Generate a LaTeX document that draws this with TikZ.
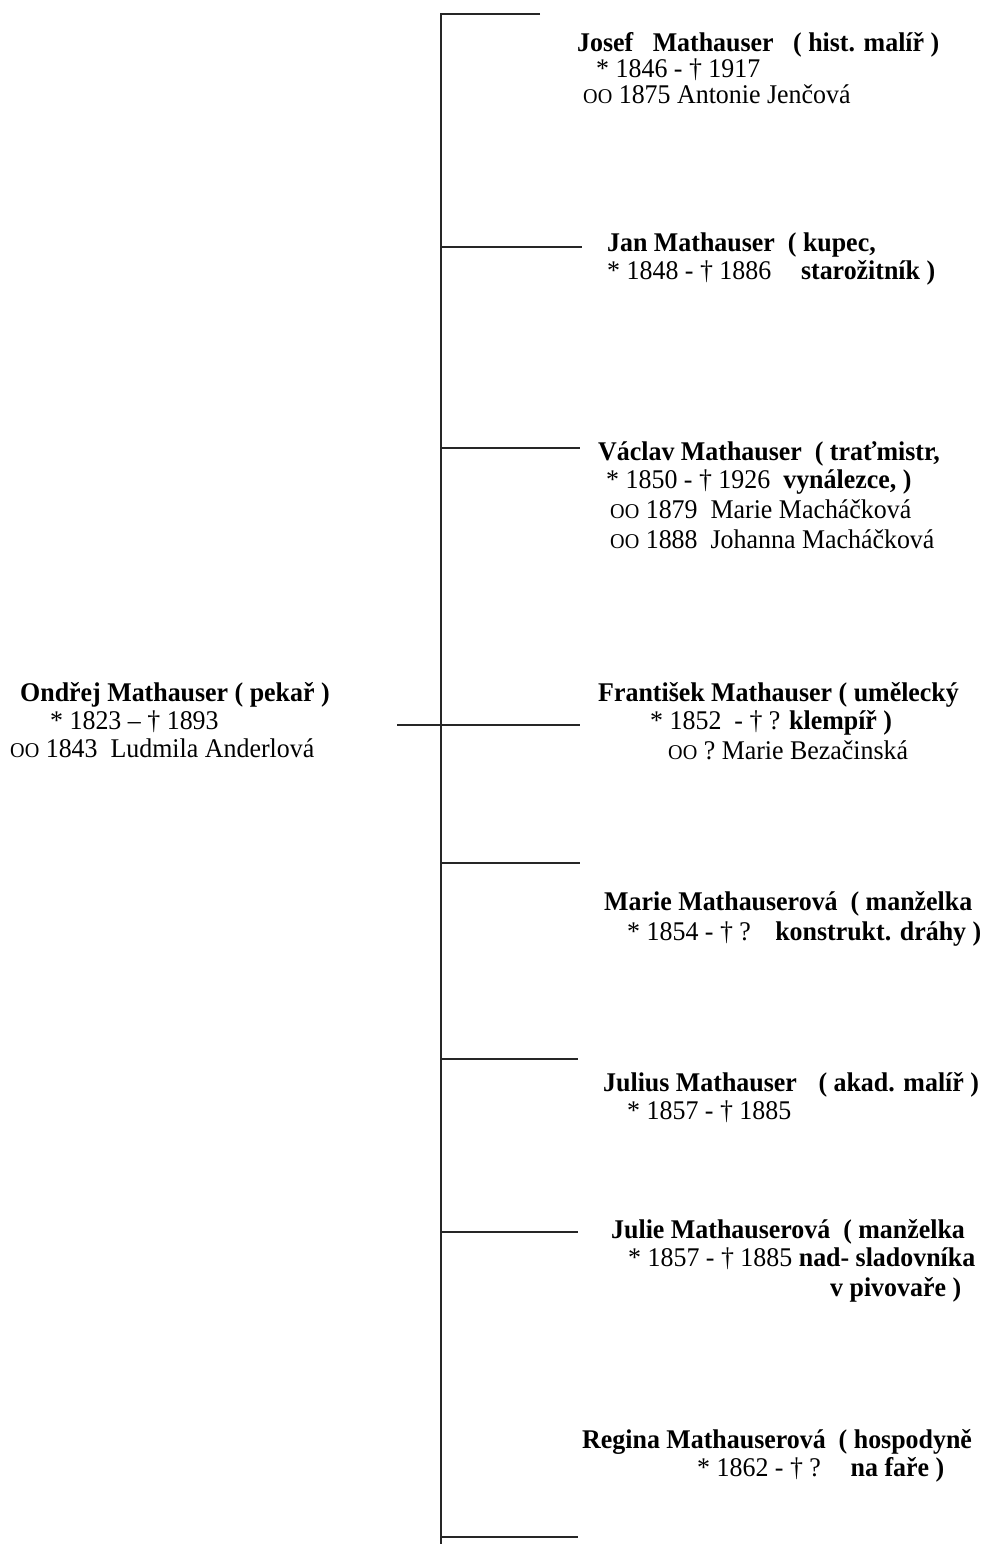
\documentclass[tikz,border=0pt]{standalone}
\usepackage{fontspec}
\setmainfont{Liberation Serif}[FakeStretch=0.96]
\usepackage{tikz}
\newcommand{\marr}{{\fontsize{21}{21}\selectfont OO}}
\newcommand{\firstline}{\rule{0pt}{21pt}}

\begin{document}
\begin{tikzpicture}[x=1pt,y=-1pt,
	person/.style={anchor=north west,align=left,inner sep=0pt,font=\fontsize{27}{28}\selectfont},
	branch/.style={line width=2.2pt,draw=black!85}]
	\useasboundingbox (0,0) rectangle (982,1544);

	% trunk and its branch points
	\coordinate (tTop) at (441,14);
	\coordinate (tJan) at (441,247);
	\coordinate (tVaclav) at (441,448);
	\coordinate (tFrant) at (441,725);
	\coordinate (tMarie) at (441,863);
	\coordinate (tJulius) at (441,1059);
	\coordinate (tJulie) at (441,1232);
	\coordinate (tBot) at (441,1537);
	\coordinate (tEnd) at (441,1544);

	% free ends of the branches
	\coordinate (eTop) at (540,14);
	\coordinate (eJan) at (582,247);
	\coordinate (eVaclav) at (580,448);
	\coordinate (eOndrej) at (397,725);
	\coordinate (eFrant) at (580,725);
	\coordinate (eMarie) at (580,863);
	\coordinate (eJulius) at (578,1059);
	\coordinate (eJulie) at (578,1232);
	\coordinate (eBot) at (578,1537);

	\draw[branch] (eTop) -- (tTop) -- (tEnd);
	\draw[branch] (tJan) -- (eJan);
	\draw[branch] (tVaclav) -- (eVaclav);
	\draw[branch] (eOndrej) -- (eFrant);
	\draw[branch] (tMarie) -- (eMarie);
	\draw[branch] (tJulius) -- (eJulius);
	\draw[branch] (tJulie) -- (eJulie);
	\draw[branch] (tBot) -- (eBot);

	\node[person] (ondrej) at (10,680) {\firstline\hspace*{10pt}\textbf{Ondřej Mathauser ( pekař )}\\
		\hspace*{40pt}* 1823 -- † 1893\\
		\marr{} 1843\ \ Ludmila Anderlová};

	\node[person] (josef) at (577,30) {\firstline\textbf{Josef\ \ \ Mathauser\ \ \ ( hist. malíř )}\\[-2pt]
		\hspace*{19pt}* 1846 - † 1917\\[-2pt]
		\hspace*{6pt}\marr{} 1875 Antonie Jenčová};
	\node[person] (jan) at (607,230) {\firstline\textbf{Jan Mathauser\ \ ( kupec,}\\
		* 1848 - † 1886\hspace{1.1em}\textbf{starožitník )}};
	\node[person] (vaclav) at (598,439) {\firstline\textbf{Václav Mathauser\ \ ( traťmistr,}\\
		\hspace*{8pt}* 1850 - † 1926\ \ \textbf{vynálezce, )}\\[2pt]
		\hspace*{12pt}\marr{} 1879\ \ Marie Macháčková\\[2pt]
		\hspace*{12pt}\marr{} 1888\ \ Johanna Macháčková};
	\node[person] (frant) at (598,680) {\firstline\textbf{František Mathauser ( umělecký}\\
		\hspace*{52pt}* 1852\ \ - † ? \textbf{klempíř )}\\[2pt]
		\hspace*{70pt}\marr{} ? Marie Bezačinská};
	\node[person] (marie) at (604,889) {\firstline\textbf{Marie Mathauserová\ \ ( manželka}\\[2pt]
		\hspace*{23pt}* 1854 - † ?\hspace{0.9em}\textbf{konstrukt. dráhy )}};
	\node[person] (julius) at (603,1070) {\firstline\textbf{Julius Mathauser\hspace{0.8em}( akad. malíř )}\\
		\hspace*{24pt}* 1857 - † 1885};
	\node[person] (julie) at (611,1217) {\firstline\textbf{Julie Mathauserová\ \ ( manželka}\\
		\hspace*{17pt}* 1857 - † 1885 \textbf{nad- sladovníka}\\[2pt]
		\hspace*{219pt}\textbf{v pivovaře )}};
	\node[person] (regina) at (582,1427) {\firstline\textbf{Regina Mathauserová\ \ ( hospodyně}\\
		\hspace*{115pt}* 1862 - † ?\hspace{1.1em}\textbf{na faře )}};
\end{tikzpicture}
\end{document}
